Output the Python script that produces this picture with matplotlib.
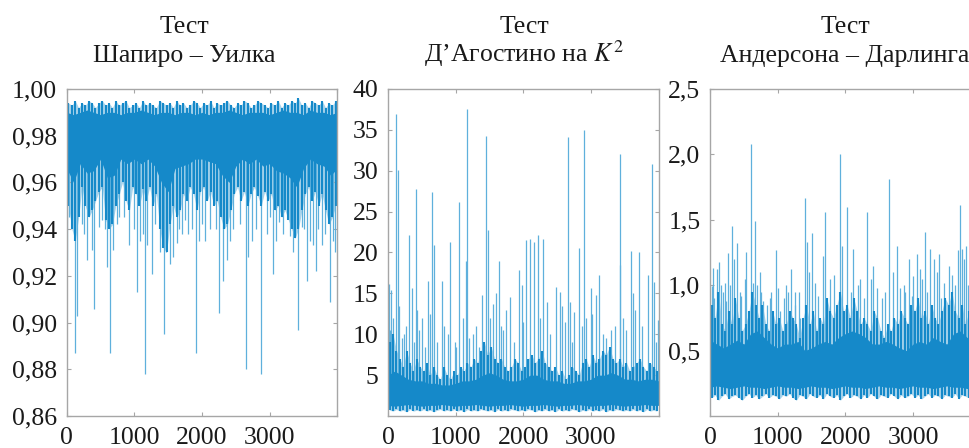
import numpy as np
import matplotlib
matplotlib.use("Agg")
import matplotlib.pyplot as plt

plt.rcParams["font.family"] = ["Liberation Serif", "DejaVu Serif"]
plt.rcParams["mathtext.fontset"] = "stix"

# ---------------------------------------------------------------- data
# solid part of the dense band, read every 100 samples (0..4000)
env_x = np.arange(0, 4001, 100)
# ragged edges of the band, read every 50 samples
edge_x = np.arange(25, 4000, 50)

# --- Shapiro - Wilk
sw_core_hi = [0.990, 0.989, 0.990, 0.991, 0.990, 0.989, 0.990, 0.990, 0.989, 0.990,
              0.990, 0.991, 0.990, 0.989, 0.990, 0.990, 0.989, 0.990, 0.990, 0.989,
              0.990, 0.989, 0.990, 0.990, 0.991, 0.990, 0.989, 0.990, 0.990, 0.990,
              0.989, 0.990, 0.991, 0.990, 0.990, 0.989, 0.991, 0.990, 0.990, 0.989, 0.990]
sw_core_lo = [0.966, 0.960, 0.968, 0.964, 0.965, 0.970, 0.962, 0.963, 0.970, 0.968,
              0.970, 0.968, 0.970, 0.967, 0.960, 0.956, 0.966, 0.967, 0.968, 0.970,
              0.970, 0.969, 0.968, 0.963, 0.960, 0.967, 0.970, 0.968, 0.970, 0.967,
              0.968, 0.965, 0.964, 0.962, 0.958, 0.966, 0.970, 0.968, 0.967, 0.963, 0.966]
sw_edge_hi = [0.994, 0.993, 0.995, 0.992, 0.994, 0.993, 0.995, 0.994, 0.992, 0.994,
              0.995, 0.993, 0.994, 0.992, 0.995, 0.993, 0.994, 0.995, 0.992, 0.993,
              0.994, 0.992, 0.995, 0.993, 0.994, 0.993, 0.992, 0.995, 0.994, 0.993,
              0.994, 0.992, 0.995, 0.993, 0.994, 0.992, 0.993, 0.995, 0.994, 0.992,
              0.994, 0.993, 0.995, 0.992, 0.994, 0.993, 0.994, 0.995, 0.993, 0.992,
              0.994, 0.993, 0.995, 0.994, 0.992, 0.993, 0.995, 0.994, 0.993, 0.992,
              0.994, 0.993, 0.995, 0.992, 0.994, 0.993, 0.995, 0.994, 0.996, 0.993,
              0.994, 0.992, 0.995, 0.994, 0.993, 0.995, 0.992, 0.994, 0.993, 0.995]
sw_edge_lo = [0.950, 0.940, 0.935, 0.945, 0.958, 0.950, 0.945, 0.948, 0.952, 0.956,
              0.958, 0.944, 0.940, 0.942, 0.950, 0.955, 0.960, 0.952, 0.948, 0.958,
              0.955, 0.950, 0.957, 0.952, 0.958, 0.950, 0.955, 0.940, 0.932, 0.930,
              0.942, 0.950, 0.945, 0.948, 0.955, 0.952, 0.958, 0.955, 0.948, 0.956,
              0.958, 0.952, 0.956, 0.950, 0.952, 0.945, 0.940, 0.942, 0.948, 0.955,
              0.958, 0.952, 0.956, 0.950, 0.955, 0.958, 0.954, 0.950, 0.956, 0.952,
              0.955, 0.948, 0.950, 0.945, 0.948, 0.944, 0.940, 0.936, 0.940, 0.948,
              0.955, 0.958, 0.952, 0.956, 0.950, 0.955, 0.948, 0.942, 0.945, 0.950]
sw_spike_x = [5, 40, 118, 148, 220, 250, 305, 370, 404, 483, 520, 560, 600, 640, 690,
              740, 778, 850, 926, 1000, 1044, 1084, 1120, 1158, 1182, 1261, 1300, 1379,
              1443, 1468, 1520, 1576, 1625, 1660, 1704, 1750, 1798, 1850, 1911, 1960,
              2000, 2044, 2118, 2200, 2256, 2305, 2365, 2420, 2463, 2560, 2650, 2680,
              2734, 2800, 2877, 2956, 3000, 3054, 3100, 3143, 3200, 3300, 3350, 3424,
              3473, 3500, 3557, 3600, 3635, 3685, 3720, 3768, 3820, 3892, 3941, 3960]
sw_spike_y = [0.927, 0.945, 0.887, 0.903, 0.942, 0.938, 0.927, 0.931, 0.906, 0.941,
              0.944, 0.940, 0.924, 0.887, 0.931, 0.942, 0.945, 0.945, 0.933, 0.940,
              0.913, 0.935, 0.938, 0.878, 0.933, 0.921, 0.942, 0.930, 0.895, 0.930,
              0.925, 0.928, 0.934, 0.940, 0.938, 0.944, 0.938, 0.940, 0.887, 0.935,
              0.942, 0.935, 0.940, 0.940, 0.904, 0.918, 0.927, 0.935, 0.940, 0.942,
              0.880, 0.928, 0.935, 0.940, 0.878, 0.938, 0.945, 0.921, 0.935, 0.943,
              0.938, 0.937, 0.930, 0.897, 0.941, 0.940, 0.918, 0.935, 0.933, 0.922,
              0.940, 0.933, 0.938, 0.909, 0.935, 0.930]

# --- D'Agostino K^2
da_core_hi = [5.0, 5.5, 5.0, 4.5, 4.3, 4.3, 4.0, 4.0, 3.8, 3.8, 4.0, 4.3, 4.3, 4.5,
              5.0, 5.3, 5.0, 4.5, 4.3, 4.3, 4.5, 5.0, 5.0, 4.5, 4.3, 4.3, 4.0, 4.0,
              4.3, 4.3, 4.5, 5.0, 5.0, 5.3, 5.0, 4.5, 4.5, 4.3, 4.5, 4.5, 4.3]
da_core_lo = [1.3, 1.2, 1.3, 1.4, 1.3, 1.2, 1.3, 1.3, 1.4, 1.3, 1.2, 1.3, 1.3, 1.4,
              1.3, 1.2, 1.3, 1.3, 1.4, 1.3, 1.2, 1.3, 1.3, 1.4, 1.3, 1.2, 1.3, 1.3,
              1.4, 1.3, 1.2, 1.3, 1.3, 1.4, 1.3, 1.2, 1.3, 1.3, 1.4, 1.3, 1.3]
da_edge_hi = [9.0, 10.0, 8.0, 7.0, 6.0, 8.0, 6.5, 5.5, 7.0, 6.0,
              5.5, 6.5, 5.0, 6.0, 5.0, 4.5, 6.0, 5.0, 4.5, 5.5,
              5.0, 6.0, 5.5, 6.5, 6.0, 7.0, 6.5, 8.0, 9.0, 7.5,
              8.5, 7.0, 6.5, 7.0, 6.0, 5.5, 6.0, 7.0, 6.5, 5.5,
              6.0, 7.0, 7.5, 6.5, 7.0, 8.0, 6.5, 6.0, 5.5, 6.0,
              5.0, 5.5, 4.5, 5.0, 6.0, 5.5, 5.0, 6.5, 7.0, 6.0,
              7.5, 6.5, 7.0, 8.0, 7.5, 8.5, 7.0, 6.5, 7.0, 6.0,
              6.5, 5.5, 6.0, 6.5, 7.0, 6.0, 5.5, 6.5, 6.0, 5.5]
da_edge_lo = [0.7, 0.6, 0.8, 0.6, 0.7, 0.5, 0.8, 0.6, 0.7, 0.6,
              0.8, 0.6, 0.7, 0.5, 0.7, 0.8, 0.6, 0.7, 0.6, 0.8,
              0.6, 0.7, 0.5, 0.8, 0.6, 0.7, 0.6, 0.8, 0.7, 0.6,
              0.7, 0.5, 0.8, 0.6, 0.7, 0.6, 0.8, 0.7, 0.6, 0.7,
              0.6, 0.8, 0.7, 0.5, 0.7, 0.6, 0.8, 0.6, 0.7, 0.5,
              0.8, 0.6, 0.7, 0.6, 0.8, 0.7, 0.5, 0.7, 0.6, 0.8,
              0.6, 0.7, 0.6, 0.8, 0.5, 0.7, 0.6, 0.8, 0.7, 0.6,
              0.7, 0.6, 0.8, 0.6, 0.7, 0.5, 0.8, 0.6, 0.7, 0.6]
da_spike_x = [15, 30, 50, 80, 123, 148, 163, 200, 232, 270, 310, 355, 380, 409, 429,
              460, 507, 540, 591, 620, 655, 685, 720, 793, 828, 880, 921, 985, 1010,
              1054, 1108, 1157, 1172, 1200, 1256, 1300, 1350, 1394, 1453, 1473, 1510,
              1552, 1591, 1640, 1670, 1700, 1740, 1798, 1860, 1936, 1975, 2000, 2044,
              2094, 2153, 2212, 2250, 2291, 2350, 2400, 2488, 2537, 2570, 2611, 2660,
              2685, 2720, 2744, 2823, 2860, 2892, 2931, 2995, 3020, 3069, 3118, 3177,
              3220, 3300, 3350, 3423, 3433, 3480, 3512, 3586, 3621, 3650, 3704, 3760,
              3842, 3906, 3926, 3960, 3990]
da_spike_y = [16.2, 10.5, 15.4, 12.0, 36.9, 30.1, 13.5, 9.5, 10.0, 11.0, 22.2, 15.7,
              9.0, 27.8, 13.0, 10.5, 12.0, 8.5, 16.5, 12.5, 27.4, 20.9, 9.0, 16.5, 11.0,
              10.0, 21.3, 9.0, 8.5, 26.2, 12.0, 19.0, 37.5, 9.5, 10.0, 11.0, 8.5, 14.8,
              34.3, 22.7, 12.0, 13.7, 15.0, 19.0, 11.0, 10.5, 13.0, 14.5, 9.0, 17.8,
              16.0, 11.5, 21.5, 21.6, 21.3, 22.2, 12.0, 21.7, 14.0, 10.0, 15.8, 15.2,
              13.5, 11.5, 34.1, 14.0, 9.0, 12.7, 20.6, 11.0, 35.0, 12.0, 15.7, 12.5,
              14.8, 17.2, 10.0, 9.5, 10.5, 11.0, 18.5, 32.0, 12.0, 10.5, 20.2, 15.0,
              13.0, 20.0, 11.0, 17.3, 30.8, 16.4, 9.0, 11.8]

# --- Anderson - Darling
ad_core_hi = [0.58, 0.55, 0.52, 0.55, 0.58, 0.55, 0.63, 0.65, 0.60, 0.55, 0.52, 0.55,
              0.55, 0.57, 0.50, 0.52, 0.55, 0.57, 0.55, 0.60, 0.63, 0.65, 0.63, 0.60,
              0.55, 0.55, 0.57, 0.55, 0.52, 0.50, 0.55, 0.57, 0.55, 0.60, 0.57, 0.55,
              0.63, 0.65, 0.60, 0.57, 0.55]
ad_core_lo = [0.22, 0.23, 0.22, 0.21, 0.22, 0.23, 0.22, 0.22, 0.21, 0.22, 0.23, 0.22,
              0.22, 0.21, 0.22, 0.23, 0.22, 0.22, 0.21, 0.22, 0.23, 0.22, 0.22, 0.21,
              0.22, 0.23, 0.22, 0.22, 0.21, 0.22, 0.23, 0.22, 0.22, 0.21, 0.22, 0.23,
              0.22, 0.22, 0.21, 0.22, 0.22]
ad_edge_hi = [0.85, 0.75, 0.95, 0.70, 0.65, 0.80, 0.70, 0.90, 0.75, 0.65,
              0.70, 0.80, 0.95, 0.85, 0.75, 0.85, 0.70, 0.65, 0.80, 0.70,
              0.75, 0.65, 0.70, 0.80, 0.75, 0.70, 0.60, 0.75, 0.85, 0.70,
              0.80, 0.65, 0.75, 0.70, 0.90, 0.80, 0.75, 0.85, 0.95, 0.80,
              0.85, 0.75, 0.90, 0.80, 0.70, 0.75, 0.70, 0.65, 0.80, 0.75,
              0.65, 0.60, 0.70, 0.65, 0.75, 0.70, 0.80, 0.75, 0.70, 0.85,
              0.80, 0.90, 0.75, 0.80, 0.70, 0.85, 0.75, 0.70, 0.80, 0.90,
              0.85, 0.95, 0.80, 0.75, 0.85, 0.70, 0.80, 0.75, 0.70, 0.65]
ad_edge_lo = [0.14, 0.16, 0.12, 0.15, 0.17, 0.13, 0.15, 0.16, 0.14, 0.12,
              0.15, 0.17, 0.14, 0.16, 0.13, 0.15, 0.17, 0.14, 0.16, 0.15,
              0.13, 0.16, 0.15, 0.17, 0.14, 0.12, 0.16, 0.15, 0.13, 0.17,
              0.15, 0.14, 0.16, 0.13, 0.17, 0.15, 0.14, 0.16, 0.12, 0.15,
              0.17, 0.14, 0.16, 0.15, 0.13, 0.16, 0.14, 0.17, 0.15, 0.13,
              0.16, 0.15, 0.14, 0.17, 0.15, 0.13, 0.16, 0.14, 0.15, 0.17,
              0.14, 0.16, 0.13, 0.15, 0.17, 0.14, 0.16, 0.15, 0.13, 0.16,
              0.15, 0.14, 0.17, 0.13, 0.16, 0.15, 0.14, 0.06, 0.15, 0.14]
ad_spike_x = [25, 49, 60, 99, 133, 160, 187, 217, 240, 266, 296, 325, 354, 399, 443,
              460, 520, 527, 601, 640, 665, 690, 739, 760, 788, 837, 880, 906, 970,
              1000, 1034, 1098, 1130, 1158, 1192, 1250, 1261, 1320, 1335, 1399, 1429,
              1460, 1502, 1552, 1600, 1665, 1700, 1773, 1830, 1921, 1946, 2029, 2080,
              2118, 2180, 2217, 2280, 2325, 2380, 2414, 2463, 2537, 2580, 2650, 2700,
              2759, 2808, 2860, 2882, 2946, 2980, 3005, 3054, 3103, 3140, 3177, 3200,
              3251, 3315, 3360, 3389, 3420, 3458, 3530, 3571, 3620, 3670, 3695, 3729,
              3760, 3783, 3818]
ad_spike_y = [0.995, 1.13, 0.90, 1.12, 1.18, 1.00, 0.95, 1.02, 0.88, 1.245, 1.00,
              1.45, 1.20, 1.32, 0.95, 0.92, 1.05, 1.25, 2.08, 1.02, 1.49, 1.00, 1.10,
              0.95, 0.88, 0.85, 0.90, 0.95, 1.27, 0.98, 0.80, 0.90, 1.00, 0.95, 1.12,
              0.85, 0.95, 0.95, 0.75, 1.67, 1.33, 1.10, 1.40, 1.02, 0.92, 1.22, 1.56,
              1.05, 1.08, 2.00, 1.30, 1.60, 0.95, 1.28, 1.00, 1.05, 0.90, 1.56, 1.05,
              1.15, 0.98, 0.90, 0.95, 1.81, 1.10, 1.30, 0.98, 1.00, 0.95, 1.20, 0.92,
              1.07, 1.24, 1.12, 1.05, 1.41, 0.95, 1.28, 1.20, 1.10, 1.24, 0.90, 1.02,
              1.15, 1.08, 1.00, 1.27, 1.61, 1.28, 1.20, 1.30, 1.00]

title_top = "Тест"
titles = ["Шапиро – Уилка", "Д’Агостино на $K^2$", "Андерсона – Дарлинга"]
x_ticks = [0, 1000, 2000, 3000]
x_labels = ["0", "1000", "2000", "3000"]
sw_yticks = [0.86, 0.88, 0.90, 0.92, 0.94, 0.96, 0.98, 1.00]
sw_ylabels = ["0,86", "0,88", "0,90", "0,92", "0,94", "0,96", "0,98", "1,00"]
da_yticks = [5, 10, 15, 20, 25, 30, 35, 40]
da_ylabels = ["5", "10", "15", "20", "25", "30", "35", "40"]
ad_yticks = [0.5, 1.0, 1.5, 2.0, 2.5]
ad_ylabels = ["0,5", "1,0", "1,5", "2,0", "2,5"]

# ---------------------------------------------------------------- style
CORE = "#1589c9"
SPIKE = "#5fb0dc"
EDGE = "#a6a6a6"
TXT = "#1a1a1a"


def draw_panel(ax, core_lo, core_hi, edge_lo, edge_hi, sx, sy, mid, ylim, yticks, ylabels):
    # pale haze where the dense spikes mix with the background
    ax.fill_between(edge_x, edge_lo, edge_hi, color=SPIKE, alpha=0.55, lw=0, zorder=1)
    ax.vlines(sx, mid, sy, color=SPIKE, lw=0.9, zorder=2)
    # dense dark spikes along both edges of the band
    ax.vlines(edge_x, mid, edge_hi, color=CORE, lw=1.5, zorder=3)
    ax.vlines(edge_x, edge_lo, mid, color=CORE, lw=1.5, zorder=3)
    ax.fill_between(env_x, core_lo, core_hi, color=CORE, lw=0, zorder=4)
    ax.set_xlim(0, 4000)
    ax.set_ylim(*ylim)
    ax.set_xticks(x_ticks + [4000])
    ax.set_xticklabels(x_labels + [""])
    ax.set_yticks(yticks)
    ax.set_yticklabels(ylabels)
    ax.tick_params(direction="in", length=3, width=0.8, color=EDGE,
                   top=True, right=True, labelsize=18.5, labelcolor=TXT)
    ax.tick_params(axis="x", pad=8)
    ax.tick_params(axis="y", pad=7)
    for sp in ax.spines.values():
        sp.set_edgecolor(EDGE)
        sp.set_linewidth(1.0)
        sp.set_zorder(5)


fig = plt.figure(figsize=(9.7, 4.48), dpi=100)
w, h, b = 0.279, 0.730, 0.0714
ax1 = fig.add_axes([0.0688, b, w, h])
ax2 = fig.add_axes([0.4000, b, w, h])
ax3 = fig.add_axes([0.7320, b, w, h])

draw_panel(ax1, sw_core_lo, sw_core_hi, sw_edge_lo, sw_edge_hi,
           sw_spike_x, sw_spike_y, 0.978, (0.86, 1.00), sw_yticks, sw_ylabels)
draw_panel(ax2, da_core_lo, da_core_hi, da_edge_lo, da_edge_hi,
           da_spike_x, da_spike_y, 2.0, (0, 40), da_yticks, da_ylabels)
draw_panel(ax3, ad_core_lo, ad_core_hi, ad_edge_lo, ad_edge_hi,
           ad_spike_x, ad_spike_y, 0.4, (0, 2.5), ad_yticks, ad_ylabels)

# two-line titles, centred where the reference puts them
for xc, t in zip([184, 524, 845], titles):
    fig.text(xc / 970, 1 - 33 / 448, title_top, ha="center", va="baseline",
             fontsize=18.5, color=TXT)
    fig.text(xc / 970, 1 - 62 / 448, t, ha="center", va="baseline",
             fontsize=18.5, color=TXT)

fig.savefig("out.png", dpi=100, facecolor="white")
